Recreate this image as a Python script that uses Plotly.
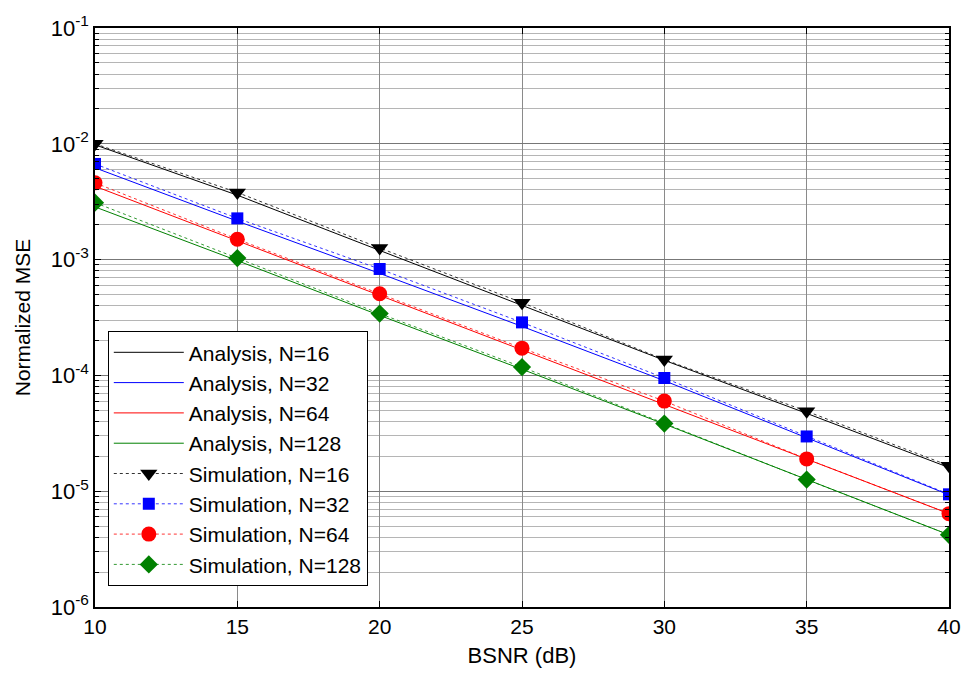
import plotly.graph_objects as go

bsnr = [10, 15, 20, 25, 30, 35, 40]

ana_16 = [9.8e-3, 3.6e-3, 1.2e-3, 4.05e-4, 1.35e-4, 4.7e-5, 1.6e-5]
ana_32 = [6.2e-3, 2.15e-3, 7.6e-4, 2.65e-4, 9.0e-5, 2.9e-5, 9.3e-6]
ana_64 = [4.3e-3, 1.45e-3, 4.9e-4, 1.65e-4, 5.6e-5, 1.9e-5, 6.4e-6]
ana_128 = [2.85e-3, 9.8e-4, 3.3e-4, 1.13e-4, 3.8e-5, 1.26e-5, 4.2e-6]

sim_16 = [1.0e-2, 3.8e-3, 1.26e-3, 4.25e-4, 1.37e-4, 4.9e-5, 1.66e-5]
sim_32 = [6.7e-3, 2.27e-3, 8.3e-4, 2.87e-4, 9.5e-5, 2.97e-5, 9.4e-6]
sim_64 = [4.6e-3, 1.5e-3, 5.07e-4, 1.72e-4, 6.0e-5, 1.9e-5, 6.4e-6]
sim_128 = [3.1e-3, 1.03e-3, 3.42e-4, 1.18e-4, 3.84e-5, 1.26e-5, 4.2e-6]

analysis_names = ["Analysis, N=16", "Analysis, N=32", "Analysis, N=64", "Analysis, N=128"]
sim_names = ["Simulation, N=16", "Simulation, N=32", "Simulation, N=64", "Simulation, N=128"]
colors = ["#000000", "#0000ff", "#ff0000", "#008000"]
symbols = ["triangle-down", "square", "circle", "diamond"]
msizes = [15, 12, 15, 14]

y_tickvals = [1e-6, 1e-5, 1e-4, 1e-3, 1e-2, 1e-1]
y_ticktext = ["10<sup>-6</sup>", "10<sup>-5</sup>", "10<sup>-4</sup>", "10<sup>-3</sup>",
              "10<sup>-2</sup>", "10<sup>-1</sup>"]

FONT = "Liberation Sans, Arial, sans-serif"

fig = go.Figure()
for name, ys, c in zip(analysis_names, [ana_16, ana_32, ana_64, ana_128], colors):
    fig.add_trace(go.Scatter(x=bsnr, y=ys, mode="lines", name=name,
                             line=dict(color=c, width=1)))
for name, ys, c, s, ms in zip(sim_names, [sim_16, sim_32, sim_64, sim_128], colors, symbols, msizes):
    fig.add_trace(go.Scatter(x=bsnr, y=ys, mode="lines+markers", name=name,
                             line=dict(color=c, width=0.8, dash="dot"),
                             marker=dict(symbol=s, size=ms, color=c, line=dict(width=0))))

fig.update_layout(
    width=973, height=676,
    margin=dict(l=95, r=15, t=25, b=67),
    paper_bgcolor="white", plot_bgcolor="white",
    font=dict(family=FONT, size=21, color="black"),
    showlegend=True,
    legend=dict(x=0.015, y=0.036, xanchor="left", yanchor="bottom",
                bgcolor="white", bordercolor="black", borderwidth=1,
                font=dict(family=FONT, size=21, color="black"),
                itemwidth=70, tracegroupgap=0),
)
fig.update_xaxes(
    range=[10, 40], tickvals=[10, 15, 20, 25, 30, 35, 40],
    title=dict(text="BSNR (dB)", font=dict(size=22), standoff=11),
    showline=True, linecolor="black", linewidth=1.5, mirror="ticks",
    ticks="inside", ticklen=6, tickcolor="black",
    showgrid=True, gridcolor="#8a8a8a", gridwidth=1,
    zeroline=False, tickfont=dict(size=21),
)
fig.update_yaxes(
    type="log", range=[-6, -1], tickvals=y_tickvals, ticktext=y_ticktext,
    title=dict(text="Normalized MSE", font=dict(size=21), standoff=14),
    showline=True, linecolor="black", linewidth=1.5, mirror="ticks",
    ticks="inside", ticklen=6, tickcolor="black",
    showgrid=True, gridcolor="#777777", gridwidth=1,
    minor=dict(dtick="D1", showgrid=True, gridcolor="#b5b5b5", gridwidth=1,
               ticks="inside", ticklen=4, tickcolor="black"),
    zeroline=False, tickfont=dict(size=22),
)

fig.write_html("out.html")
